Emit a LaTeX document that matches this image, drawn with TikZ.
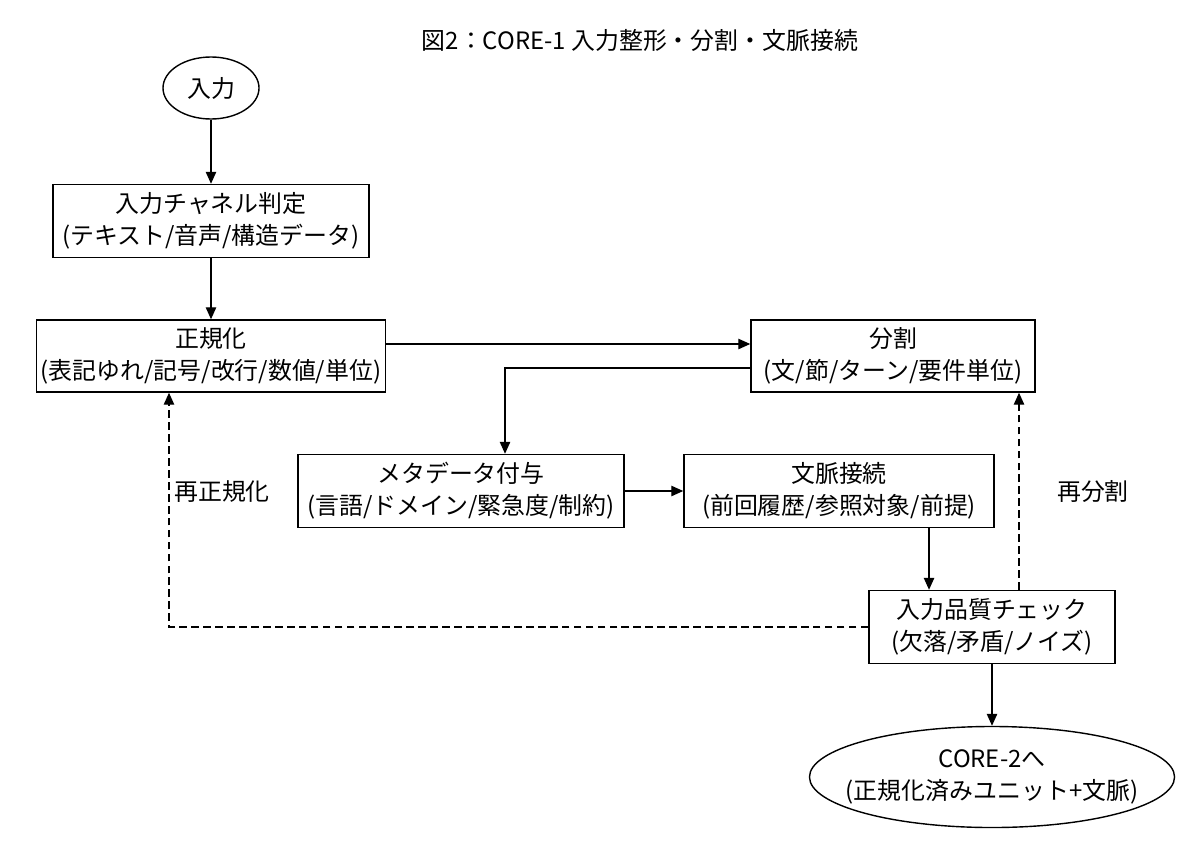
\documentclass[tikz,border=0pt]{standalone}
\usepackage{fontspec}
\setmainfont{Noto Sans CJK JP}
\usetikzlibrary{arrows.meta,shapes.geometric}

\tikzset{
  lbl/.style={font=\fontsize{17}{22.7}\selectfont, align=center},
  stepbox/.style={lbl, draw, line width=1pt, inner sep=0pt, minimum height=1.8cm},
  termnode/.style={lbl, draw, ellipse, line width=1pt, inner sep=0pt},
  flow/.style={line width=1pt, -{Triangle[length=3mm,width=2.6mm]}},
  retry/.style={flow, dash pattern=on 5.5pt off 3pt}
}

\begin{document}
\begin{tikzpicture}[x=0.025cm,y=-0.025cm]
    % 画布大小与参考图一致
    \useasboundingbox (0,0) rectangle (1200,841);
    \node[lbl] (title) at (640,40) {図2：CORE-1 入力整形・分割・文脈接続};

    % 各处理步骤
    \node[termnode, minimum width=2.4cm, minimum height=1.55cm] (input) at (211,88) {入力};
    \node[stepbox, minimum width=7.9cm, minimum height=1.825cm] (chan) at (211,221) {入力チャネル判定\\(テキスト/音声/構造データ)};
    \node[stepbox, minimum width=8.725cm] (norm) at (211,356) {正規化\\(表記ゆれ/記号/改行/数値/単位)};
    \node[stepbox, minimum width=7.1cm] (seg) at (893,356) {分割\\(文/節/ターン/要件単位)};
    \node[stepbox, minimum width=8.15cm, minimum height=1.825cm] (meta) at (461,491) {メタデータ付与\\(言語/ドメイン/緊急度/制約)};
    \node[stepbox, minimum width=7.75cm, minimum height=1.825cm] (ctx) at (839,491) {文脈接続\\(前回履歴/参照対象/前提)};
    \node[stepbox, minimum width=6.15cm, minimum height=1.825cm] (check) at (992,627) {入力品質チェック\\(欠落/矛盾/ノイズ)};
    \node[termnode, inner xsep=-0.5cm, minimum width=9.125cm, minimum height=2.525cm] (core) at (992,777) {CORE-2へ\\(正規化済みユニット+文脈)};

    % 回退标签
    \node[lbl] (renorm) at (222,492) {再正規化};
    \node[lbl] (reseg) at (1093,492) {再分割};

    % 主流程
    \draw[flow] (input) -- (chan);
    \draw[flow] (chan) -- (norm);
    \draw[flow] ([yshift=0.3cm]norm.east) -- ([yshift=0.3cm]norm.east -| seg.west);
    \draw[flow] ([yshift=-0.3cm]seg.west) -| ([xshift=1.1cm]meta.north);
    \draw[flow] (meta) -- (ctx);
    \draw[flow] ([xshift=2.25cm]ctx.south) -- ([xshift=2.25cm]ctx.south |- check.north);
    \draw[flow] (check) -- (core);

    % 虚线:回到前面的步骤
    \draw[retry] (check.west) -| ([xshift=-1.05cm]norm.south);
    \draw[retry] ([xshift=0.675cm]check.north) -- ([xshift=0.675cm]check.north |- seg.south);
\end{tikzpicture}
\end{document}
